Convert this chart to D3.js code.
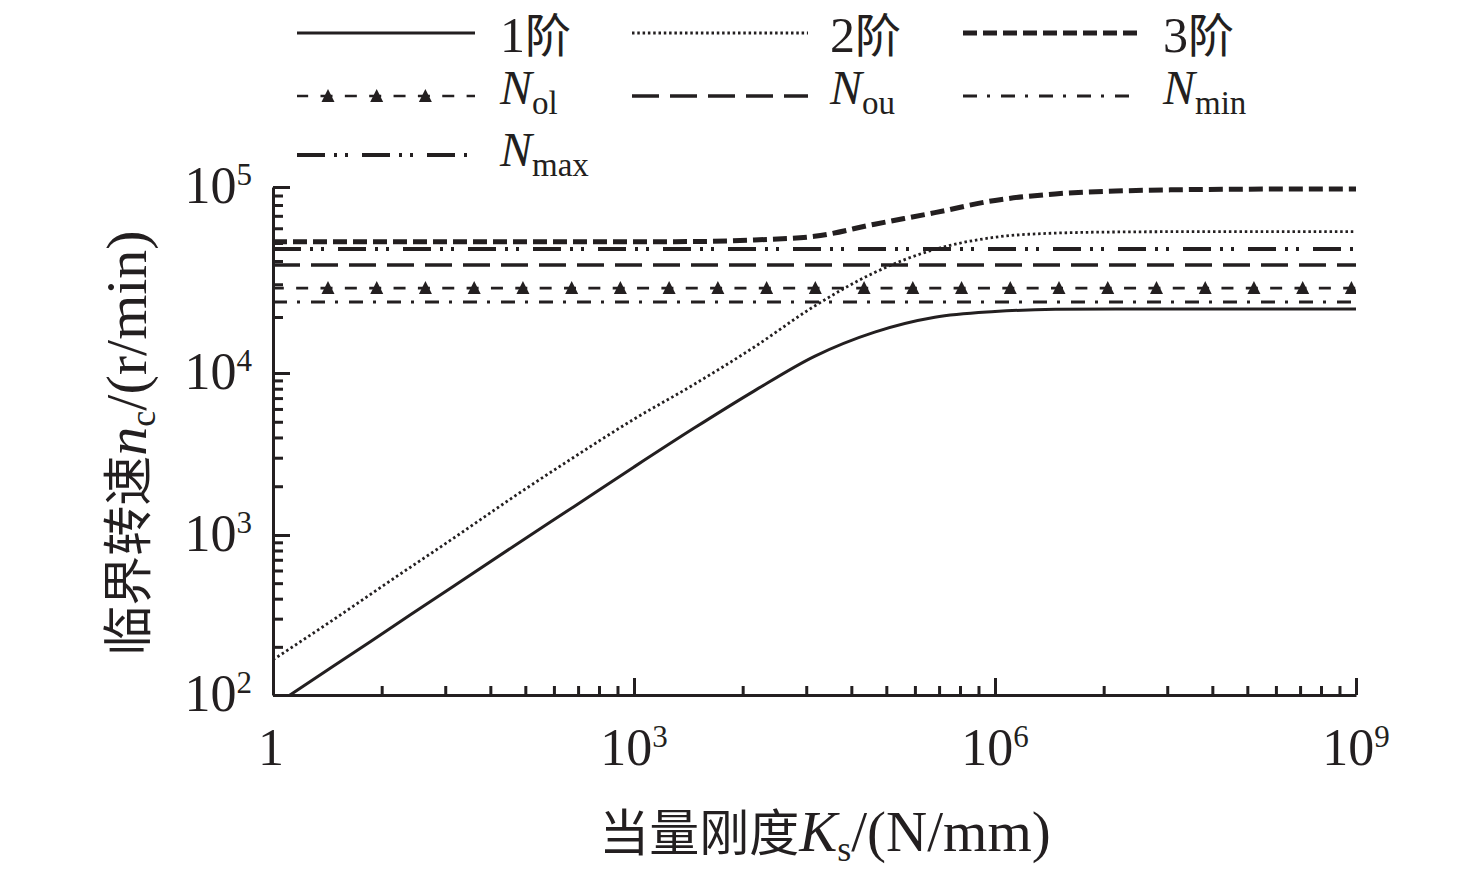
<!DOCTYPE html>
<html>
<head>
<meta charset="utf-8">
<script src="https://cdn.jsdelivr.net/npm/d3@7"></script>
<style>
  body { margin: 0; background: #fff; }
  text { font-family: 'Liberation Serif', 'Noto Sans CJK SC', serif; fill: #231f20; }
  .cjk { font-family: 'Noto Sans CJK SC', sans-serif; }
</style>
</head>
<body>
<div id="chart"></div>
<script>
// equivalent stiffness samples Ks (N/mm), half decades
var stiffness = [1, 3.162, 10, 31.62, 100, 316.2, 1e3, 3162, 1e4, 31623, 1e5, 316228,
                 1e6, 3.162e6, 1e7, 3.162e7, 1e8, 3.162e8, 1e9];
// critical speed nc (r/min)
var order1 = [85, 151, 269, 479, 851, 1496, 2630, 4570, 7760, 12300, 16600, 19950,
              21400, 22000, 22100, 22100, 22100, 22100, 22100];
var order2 = [166, 295, 533, 955, 1720, 3020, 5190, 8510, 13800, 22900, 34700, 46200,
              53700, 56500, 57300, 57500, 57500, 57500, 57500];
var order3 = [50700, 50700, 50700, 50700, 50700, 50700, 50700, 50900, 51900, 54300, 63100, 72800,
              84700, 91800, 95100, 96600, 97300, 97500, 97700];
// speed limits (r/min)
var limitKeys = ["ol", "ou", "min", "max"];
var limitValues = [28600, 38100, 24100, 46400];

// axis ticks
var xMajorExp = [0, 3, 6, 9];
var yMajorExp = [2, 3, 4, 5];

var width = 1476, height = 876;
var color = "#231f20";

var svg = d3.select("#chart")
    .append("svg")
    .attr("width", width)
    .attr("height", height);

// x: log, y: log with a taller top decade (as in the original figure)
var x = d3.scaleLog().domain([1, 1e9]).range([273, 1356]);
var y = d3.scaleLog().domain([1e2, 1e3, 1e4, 1e5]).range([695, 535, 373, 187]);

var xMajor = xMajorExp.map(function (e) { return Math.pow(10, e); });
var yMajor = yMajorExp.map(function (e) { return Math.pow(10, e); });
// x minor ticks split each 3-decade step into k^3 parts
var xMinor = [];
xMajor.slice(0, -1).forEach(function (m) {
    d3.range(2, 10).forEach(function (k) { xMinor.push(m * k * k * k); });
});
var yMinor = [];
yMajor.slice(0, -1).forEach(function (m) {
    d3.range(2, 10).forEach(function (k) { yMinor.push(m * k); });
});

// line styles
var styles = {
    "1":   { width: 3,   dash: null },
    "2":   { width: 2.8, dash: "2.5,2.8" },
    "3":   { width: 5,   dash: "14,6" },
    "ol":  { width: 2.6, dash: "12,12.35", offset: 1.2 },
    "ou":  { width: 3.5, dash: "27,11" },
    "min": { width: 3,   dash: "14,10,3,11" },
    "max": { width: 4,   dash: "28,9,3,8,3,14" }
};

function styled(sel, key) {
    var s = styles[key];
    sel.attr("fill", "none")
        .attr("stroke", color)
        .attr("stroke-width", s.width);
    if (s.dash) sel.attr("stroke-dasharray", s.dash);
    if (s.offset) sel.attr("stroke-dashoffset", s.offset);
    return sel;
}

var triPath = "M0,-7L6.5,6L-6.5,6Z";

// clip to the plotting area
svg.append("clipPath").attr("id", "plot")
    .append("rect")
    .attr("x", x.range()[0]).attr("y", y(1e5) - 2)
    .attr("width", x.range()[1] - x.range()[0])
    .attr("height", y(1e2) - y(1e5) + 2);

var line = d3.line()
    .x(function (d) { return x(d.k); })
    .y(function (d) { return y(d.n); })
    .curve(d3.curveMonotoneX);

var plot = svg.append("g").attr("clip-path", "url(#plot)");

// horizontal speed limits
limitKeys.forEach(function (key, i) {
    var v = limitValues[i];
    plot.append("path")
        .datum([{ k: 1, n: v }, { k: 1e9, n: v }])
        .attr("d", line)
        .call(styled, key);
});

// N_ol markers every 0.405 decade
var olMarkerK = d3.range(22).map(function (i) { return Math.pow(10, 0.457 + 0.405 * i); });
plot.selectAll(".tri")
    .data(olMarkerK)
    .enter()
    .append("path")
    .attr("class", "tri")
    .attr("d", triPath)
    .attr("fill", color)
    .attr("transform", function (d) { return "translate(" + x(d) + "," + y(limitValues[0]) + ")"; });

// natural frequency curves
[order1, order2, order3].forEach(function (vals, i) {
    plot.append("path")
        .datum(stiffness.map(function (k, j) { return { k: k, n: vals[j] }; }))
        .attr("d", line)
        .call(styled, String(i + 1));
});

// axes (ticks pointing inward)
function axisStyle(g, keepDomain) {
    g.selectAll("line").attr("stroke", color).attr("stroke-width", 3);
    g.select(".domain").attr("stroke", color).attr("stroke-width", 3);
    if (!keepDomain) g.select(".domain").remove();
}

svg.append("g")
    .attr("transform", "translate(0," + y(1e2) + ")")
    .call(d3.axisBottom(x).tickValues(xMinor).tickSize(-9).tickSizeOuter(0).tickFormat(""))
    .call(axisStyle, false);
svg.append("g")
    .attr("transform", "translate(0," + y(1e2) + ")")
    .call(d3.axisBottom(x).tickValues(xMajor).tickSize(-17).tickSizeOuter(0).tickFormat(""))
    .call(axisStyle, true);
svg.append("g")
    .attr("transform", "translate(" + x(1) + ",0)")
    .call(d3.axisLeft(y).tickValues(yMinor).tickSize(-10).tickSizeOuter(0).tickFormat(""))
    .call(axisStyle, false);
svg.append("g")
    .attr("transform", "translate(" + x(1) + ",0)")
    .call(d3.axisLeft(y).tickValues(yMajor).tickSize(-17).tickSizeOuter(0).tickFormat(""))
    .call(axisStyle, true);

// tick labels
function powLabel(t, e) {
    if (e === 0) { t.text("1"); return; }
    t.append("tspan").text("10");
    t.append("tspan").attr("font-size", 31).attr("dy", -18).text(e);
}
xMajorExp.forEach(function (e) {
    var t = svg.append("text")
        .attr("x", x(Math.pow(10, e)) + (e === 0 ? -2 : 0))
        .attr("y", 765)
        .attr("font-size", 52)
        .attr("text-anchor", "middle");
    powLabel(t, e);
});
yMajorExp.forEach(function (e) {
    var t = svg.append("text")
        .attr("x", 252)
        .attr("y", y(Math.pow(10, e)) + 16)
        .attr("font-size", 52)
        .attr("text-anchor", "end");
    powLabel(t, e);
});

// axis titles
var xt = svg.append("text")
    .attr("x", 825).attr("y", 851)
    .attr("font-size", 57)
    .attr("text-anchor", "middle");
xt.append("tspan").attr("class", "cjk").attr("font-size", 50).text("当量刚度");
xt.append("tspan").attr("font-style", "italic").text("K");
xt.append("tspan").attr("font-size", 36).attr("dy", 10).text("s");
xt.append("tspan").attr("dy", -10).text("/(N/mm)");

var yt = svg.append("text")
    .attr("transform", "translate(146,443) rotate(-90)")
    .attr("font-size", 58)
    .attr("text-anchor", "middle");
yt.append("tspan").attr("class", "cjk").attr("font-size", 50).text("临界转速");
yt.append("tspan").attr("font-style", "italic").text("n");
yt.append("tspan").attr("font-size", 36).attr("dy", 9).text("c");
yt.append("tspan").attr("dy", -9).text("/(r/min)");

// legend
var legendRows = [33, 96, 155];
var legendTextRows = [52, 104, 166];
var legendCols = [297, 632, 963];
var legendEnds = [475, 808, 1142];
var legendTextCols = [500, 830, 1163];
var legendItems = [
    { key: "1",   main: "1", cjk: "阶" },
    { key: "2",   main: "2", cjk: "阶" },
    { key: "3",   main: "3", cjk: "阶" },
    { key: "ol",  main: "N", sub: "ol" },
    { key: "ou",  main: "N", sub: "ou" },
    { key: "min", main: "N", sub: "min" },
    { key: "max", main: "N", sub: "max" }
];

var legend = svg.append("g");
legendItems.forEach(function (d, i) {
    var r = Math.floor(i / 3), c = i % 3;
    var x0 = legendCols[c], x1 = d.key === "min" ? 1130 : legendEnds[c];
    var ly = legendRows[r];
    var p = legend.append("line")
        .attr("x1", x0).attr("x2", x1)
        .attr("y1", ly).attr("y2", ly)
        .call(styled, d.key);
    if (d.key === "ol") {
        p.attr("stroke-dashoffset", 0.85);
        [0, 1, 2].forEach(function (j) {
            legend.append("path")
                .attr("d", triPath)
                .attr("fill", color)
                .attr("transform", "translate(" + (328 + 48.7 * j) + "," + ly + ")");
        });
    }
    var t = legend.append("text")
        .attr("x", legendTextCols[c])
        .attr("y", legendTextRows[r])
        .attr("font-size", 48);
    if (d.sub) {
        t.append("tspan").attr("font-style", "italic").text(d.main);
        t.append("tspan").attr("font-size", 33).attr("dy", 10).text(d.sub);
    } else {
        t.append("tspan").attr("font-size", 50).text(d.main);
        t.append("tspan").attr("font-size", 46).text(d.cjk);
    }
});
</script>
</body>
</html>
